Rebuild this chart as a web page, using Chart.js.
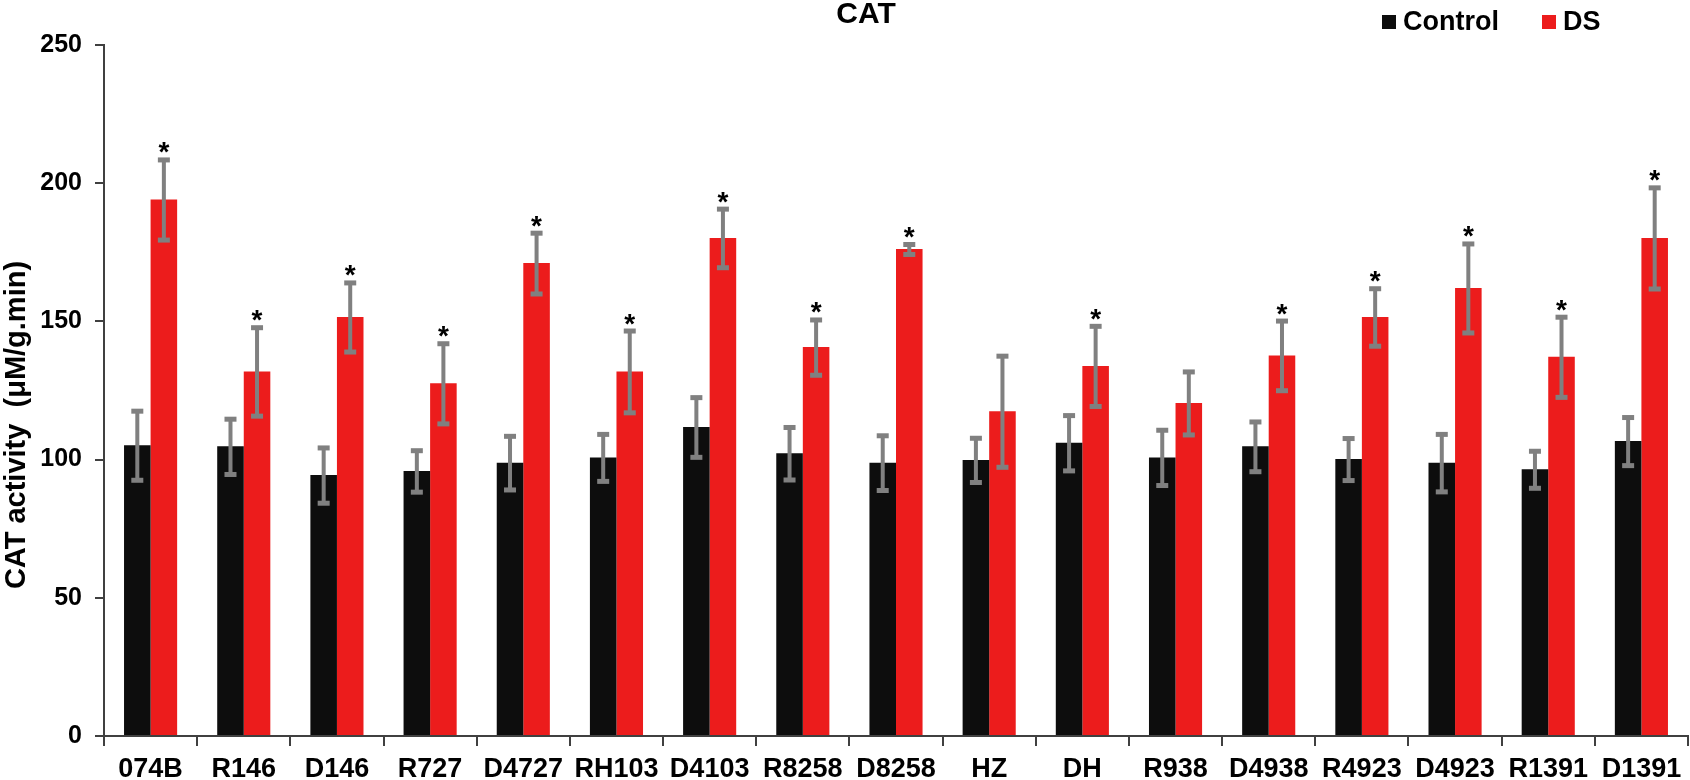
<!DOCTYPE html>
<html>
<head>
<meta charset="utf-8">
<script src="https://cdn.jsdelivr.net/npm/chart.js@4.4.1/dist/chart.umd.min.js"></script>
<style>
  html, body { margin: 0; padding: 0; background: #fff; }
  #wrap { width: 1690px; height: 780px; }
</style>
</head>
<body>
<div id="wrap"><canvas id="chart" width="1690" height="780"></canvas></div>
<script>
// --- DATA ---
const categories = ['074B', 'R146', 'D146', 'R727', 'D4727', 'RH103', 'D4103', 'R8258', 'D8258',
    'HZ', 'DH', 'R938', 'D4938', 'R4923', 'D4923', 'R1391', 'D1391'];
const controlValues = [105.2, 104.8, 94.4, 95.9, 98.9, 100.8, 111.8, 102.3, 98.9,
    99.9, 106.1, 100.8, 104.8, 100.2, 98.9, 96.5, 106.7];
const controlErrors = [12.5, 10, 10, 7.5, 9.7, 8.5, 10.8, 9.5, 9.9,
    8, 10, 10, 9, 7.6, 10.4, 6.7, 8.7];
const dsValues = [194.1, 131.9, 151.6, 127.6, 171.1, 131.9, 180.2, 140.7, 176.2,
    117.5, 133.9, 120.5, 137.7, 151.6, 162.1, 137.2, 180.2];
const dsErrors = [14.5, 16, 12.5, 14.5, 11, 14.8, 10.6, 10, 1.8,
    20.1, 14.5, 11.4, 12.6, 10.4, 16.1, 14.5, 18.3];
const dsSignificant = [true, true, true, true, true, true, true, true, true,
    false, true, false, true, true, true, true, true];
const yTicks = [0, 50, 100, 150, 200, 250];

const FONT = "'Liberation Sans', Arial, sans-serif";
const BLACK = '#0d0d0d';
const RED = '#ec1c1c';
const GREY = '#808080';
const AXIS = '#404040';

// --- ERROR BARS, STARS, TITLE, LEGEND ---
const errorBars = {
    id: 'errorBars',
    afterDatasetsDraw(chart) {
        const ctx = chart.ctx;
        const y = chart.scales.y;
        const errs = [controlErrors, dsErrors];
        ctx.save();
        chart.data.datasets.forEach((ds, di) => {
            const meta = chart.getDatasetMeta(di);
            meta.data.forEach((bar, i) => {
                const v = ds.data[i];
                const top = y.getPixelForValue(v + errs[di][i]);
                const bot = y.getPixelForValue(v - errs[di][i]);
                ctx.fillStyle = GREY;
                ctx.fillRect(bar.x - 2, top, 4, bot - top);
                ctx.fillRect(bar.x - 6, top - 2, 12, 5);
                ctx.fillRect(bar.x - 6, bot - 2, 12, 5);
                if (di === 1 && dsSignificant[i]) {
                    ctx.fillStyle = '#000';
                    ctx.font = 'bold 28px ' + FONT;
                    ctx.textAlign = 'center';
                    ctx.textBaseline = 'alphabetic';
                    const m = ctx.measureText('*');
                    ctx.fillText('*', bar.x, top - 6 - m.actualBoundingBoxDescent);
                }
            });
        });
        ctx.restore();
    },
    afterDraw(chart) {
        const ctx = chart.ctx;
        ctx.save();
        ctx.fillStyle = '#000';
        ctx.textBaseline = 'middle';

        // title
        ctx.font = 'bold 30px ' + FONT;
        ctx.textAlign = 'center';
        ctx.fillText('CAT', 866, 15);

        // legend
        ctx.font = 'bold 27px ' + FONT;
        ctx.textAlign = 'left';
        ctx.fillStyle = BLACK;
        ctx.fillRect(1382, 15, 14, 14);
        ctx.fillStyle = '#000';
        ctx.fillText('Control', 1403, 23);
        ctx.fillStyle = RED;
        ctx.fillRect(1542, 15, 14, 14);
        ctx.fillStyle = '#000';
        ctx.fillText('DS', 1563, 23);

        // y axis title
        ctx.translate(17, 425);
        ctx.rotate(-Math.PI / 2);
        ctx.textAlign = 'center';
        ctx.font = 'bold 29px ' + FONT;
        ctx.fillText('CAT activity  (\u03BCM/g.min)', 0, 0);
        ctx.restore();
    }
};

new Chart(document.getElementById('chart'), {
    type: 'bar',
    data: {
        labels: categories,
        datasets: [
            { label: 'Control', data: controlValues, backgroundColor: BLACK },
            { label: 'DS', data: dsValues, backgroundColor: RED }
        ]
    },
    options: {
        responsive: false,
        animation: false,
        devicePixelRatio: 1,
        layout: { padding: { top: 45, right: 2, left: 0, bottom: 0 } },
        datasets: { bar: { categoryPercentage: 0.57, barPercentage: 1.0 } },
        plugins: {
            legend: { display: false },
            title: { display: false },
            tooltip: { enabled: false }
        },
        scales: {
            x: {
                grid: { drawOnChartArea: false, drawTicks: true, tickLength: 10, color: AXIS, lineWidth: 2, offset: true },
                border: { display: true, color: AXIS, width: 2 },
                ticks: { color: '#000', font: { family: FONT, size: 27, weight: 'bold' }, padding: 7, maxRotation: 0, autoSkip: false },
                afterFit: (scale) => { scale.height = 44; }
            },
            y: {
                min: yTicks[0],
                max: yTicks[yTicks.length - 1],
                afterBuildTicks: (scale) => { scale.ticks = yTicks.map(v => ({ value: v })); },
                grid: { drawOnChartArea: false, drawTicks: true, tickLength: 9, color: AXIS, lineWidth: 2 },
                border: { display: true, color: AXIS, width: 2 },
                ticks: { color: '#000', font: { family: FONT, size: 25, weight: 'bold' }, padding: 13 },
                afterFit: (scale) => { scale.width = 104; }
            }
        }
    },
    plugins: [errorBars]
});
</script>
</body>
</html>
